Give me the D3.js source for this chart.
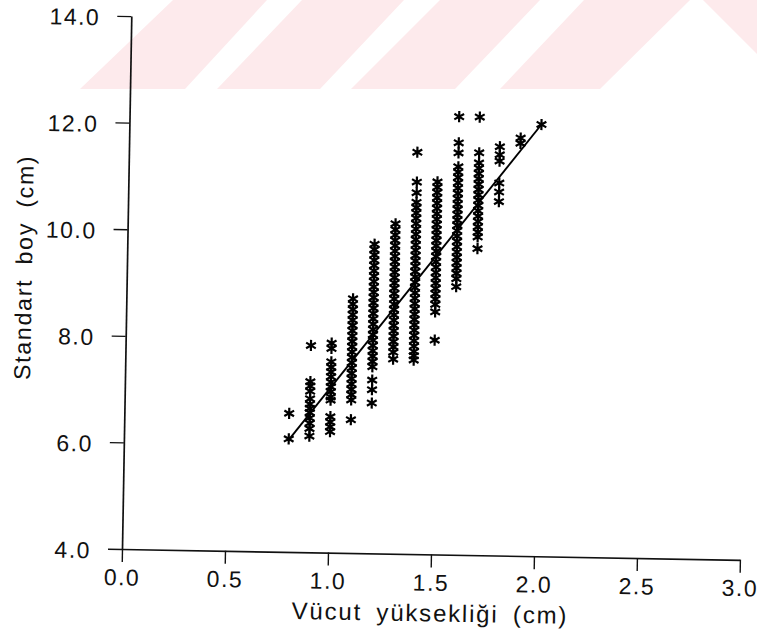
<!DOCTYPE html>
<html>
<head>
<meta charset="utf-8">
<script src="https://cdn.jsdelivr.net/npm/d3@7"></script>
<style>
  html, body { margin: 0; padding: 0; background: #fff; }
  svg { display: block; }
  text { font-family: "Liberation Sans", Arial, Helvetica, sans-serif; fill: #111; }
</style>
</head>
<body>
<svg id="chart" width="757" height="641"></svg>
<script>
// Standart boy (cm) against Vücut yüksekliği (cm), one array per body-height class
const xLevels = [0.8, 0.9, 1.0, 1.1, 1.2, 1.3, 1.4, 1.5, 1.6, 1.7, 1.8, 1.9, 2.0];

const col08 = [6.6, 6.12];
const col09 = [7.88, 7.2, 7.12, 7.02, 6.88, 6.78, 6.7, 6.62, 6.52, 6.42, 6.32, 6.18];
const col10 = [7.93, 7.83, 7.58, 7.48, 7.39, 7.3, 7.2, 7.11, 7.02, 6.92, 6.86, 6.55, 6.45, 6.36, 6.27];
const col11 = [8.77, 8.67, 8.57, 8.47, 8.37, 8.27, 8.17, 8.07, 7.97, 7.87, 7.77, 7.67, 7.57,
               7.47, 7.37, 7.27, 7.17, 7.07, 6.97, 6.87, 6.5];
const col12 = [9.8, 9.7, 9.6, 9.5, 9.4, 9.3, 9.2, 9.1, 9.0, 8.9, 8.8, 8.7, 8.6, 8.5, 8.4, 8.3,
               8.2, 8.1, 8.0, 7.9, 7.8, 7.7, 7.6, 7.5, 7.25, 7.07, 6.82];
const col13 = [10.19, 10.08, 9.98, 9.88, 9.78, 9.68, 9.58, 9.48, 9.38, 9.28, 9.18, 9.08, 8.98,
               8.88, 8.78, 8.68, 8.58, 8.48, 8.38, 8.28, 8.18, 8.08, 7.98, 7.88, 7.78, 7.65];
const col14 = [11.54, 10.98, 10.78, 10.6, 10.5, 10.4, 10.3, 10.2, 10.1, 10.0, 9.9, 9.8, 9.7,
               9.6, 9.5, 9.4, 9.3, 9.2, 9.1, 9.0, 8.9, 8.8, 8.7, 8.6, 8.5, 8.4, 8.3, 8.2, 8.1,
               8.0, 7.9, 7.8, 7.72, 7.64];
const col15 = [10.99, 10.89, 10.79, 10.69, 10.59, 10.49, 10.39, 10.29, 10.19, 10.09, 9.99,
               9.89, 9.79, 9.69, 9.59, 9.49, 9.39, 9.29, 9.19, 9.09, 8.99, 8.89, 8.79, 8.69,
               8.55, 8.02];
const col16 = [12.22, 11.73, 11.54, 11.28, 11.18, 11.08, 10.98, 10.88, 10.78, 10.68, 10.58,
               10.48, 10.38, 10.28, 10.18, 10.08, 9.98, 9.88, 9.78, 9.68, 9.58, 9.48, 9.38,
               9.28, 9.18, 9.03];
const col17 = [12.22, 11.55, 11.36, 11.26, 11.16, 11.06, 10.96, 10.86, 10.76, 10.66, 10.56,
               10.46, 10.36, 10.26, 10.16, 10.06, 9.97, 9.75];
const col18 = [11.67, 11.52, 11.4, 10.99, 10.82, 10.64];
const col19 = [11.84, 11.74];
const col20 = [12.1];

const columns = [col08, col09, col10, col11, col12, col13, col14, col15, col16, col17, col18, col19, col20];

// Fitted line: boy = intercept + slope * yükseklik, drawn over the observed range
const fitIntercept = 2.1;
const fitSlope = 5.0;
const fitRange = [0.8, 2.0];

const xTicks = [0.0, 0.5, 1.0, 1.5, 2.0, 2.5, 3.0];
const yTicks = [4.0, 6.0, 8.0, 10.0, 12.0, 14.0];
const xTitle = "Vücut yüksekliği (cm)";
const yTitle = "Standart boy (cm)";

const points = [];
columns.forEach((vals, i) => vals.forEach(v => points.push({ x: xLevels[i], y: v })));

const svg = d3.select("#chart");

// faint diagonal watermark bands across the top of the sheet
const band = [
  [[80, 89], [185, 89], [267, 0], [173, 0]],
  [[217, 89], [320, 89], [404, 0], [302, 0]],
  [[351, 89], [455, 89], [540, 0], [440, 0]],
  [[500, 89], [600, 89], [690, 0], [584, 0]],
  [[703, 0], [757, 0], [757, 54]]
];
svg.append("g").selectAll("polygon").data(band).join("polygon")
  .attr("points", d => d.map(p => p.join(",")).join(" "))
  .attr("fill", "#fdeaec");

// the plotted sheet sits about one degree off square
const plot = svg.append("g").attr("transform", "translate(122,549) rotate(1)");

const x = d3.scaleLinear().domain([0, 3]).range([0, 618]);
const y = d3.scaleLinear().domain([4, 14]).range([0, -533]);

const fmt = d3.format(".1f");

const xAxis = plot.append("g")
  .call(d3.axisBottom(x).tickValues(xTicks).tickFormat(fmt)
    .tickSize(13).tickSizeOuter(0).tickPadding(7));
const yAxis = plot.append("g")
  .call(d3.axisLeft(y).tickValues(yTicks).tickFormat(fmt)
    .tickSize(14).tickSizeOuter(0).tickPadding(17));

[xAxis, yAxis].forEach(a => {
  a.selectAll("path.domain").attr("stroke", "#111").attr("stroke-width", 1.7);
  a.selectAll(".tick line").attr("stroke", "#111").attr("stroke-width", 1.4);
  a.selectAll(".tick text")
    .style("font-family", '"Liberation Sans", Arial, sans-serif')
    .style("font-size", "23px")
    .style("letter-spacing", "1.5px")
    .attr("fill", "#111");
});
yAxis.selectAll(".tick text").attr("dy", "0.4em");

// regression line
const fitLine = d3.line().x(d => x(d)).y(d => y(fitIntercept + fitSlope * d));
plot.append("path")
  .datum(fitRange)
  .attr("d", fitLine)
  .attr("fill", "none")
  .attr("stroke", "#000")
  .attr("stroke-width", 1.9);

// observations as asterisks
const star = d3.symbol().type(d3.symbolAsterisk).size(88);
plot.append("g").selectAll("path").data(points).join("path")
  .attr("transform", d => `translate(${x(d.x)},${y(d.y)})`)
  .attr("d", star)
  .attr("fill", "none")
  .attr("stroke", "#000")
  .attr("stroke-width", 2.2);

// axis titles
plot.append("text")
  .attr("x", x(1.5))
  .attr("y", 67)
  .attr("text-anchor", "middle")
  .style("font-size", "24px")
  .style("letter-spacing", "1.8px")
  .style("word-spacing", "6px")
  .text(xTitle);

plot.append("text")
  .attr("transform", "translate(-95,-280) rotate(-90)")
  .attr("text-anchor", "middle")
  .style("font-size", "23px")
  .style("letter-spacing", "1.8px")
  .style("word-spacing", "6px")
  .text(yTitle);
</script>
</body>
</html>
